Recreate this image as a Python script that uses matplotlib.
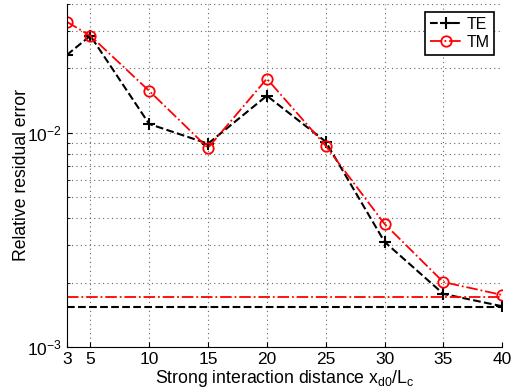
import matplotlib
matplotlib.use("Agg")
import matplotlib.pyplot as plt
from matplotlib.ticker import FixedLocator, LogLocator, NullFormatter

plt.rcParams['font.family'] = ['Liberation Sans', 'DejaVu Sans']

# data
dist = [3, 5, 10, 15, 20, 25, 30, 35, 40]
err_te = [0.0231, 0.0284, 0.0110, 0.0089, 0.0149, 0.0091, 0.0031, 0.00177, 0.00155]
err_tm = [0.0330, 0.0284, 0.0157, 0.0085, 0.0179, 0.0087, 0.00376, 0.00201, 0.00175]
ref_te = 0.00153
ref_tm = 0.00172
xticks = [3, 5, 10, 15, 20, 25, 30, 35, 40]

fig = plt.figure(figsize=(5.14, 3.91), dpi=100)
ax = fig.add_axes([0.130, 0.1125, 0.847, 0.8775])

ax.set_yscale('log')
ax.plot(dist, err_te, 'k--', marker='+', ms=8, mew=1.5, lw=1.5, label='TE')
ax.plot(dist, err_tm, color='red', ls='-.', marker='o', ms=7.5, mfc='none',
        mew=1.3, lw=1.3, label='TM')
ax.axhline(ref_te, color='k', ls='--', lw=1.5)
ax.axhline(ref_tm, color='red', ls='-.', lw=1.3)

ax.set_xlim(3, 40)
ax.set_ylim(1e-3, 4e-2)
ax.xaxis.set_major_locator(FixedLocator(xticks))
ax.set_xticklabels([str(v) for v in xticks])
ax.yaxis.set_major_locator(LogLocator(base=10))
ax.yaxis.set_minor_locator(LogLocator(base=10, subs=range(2, 10)))
ax.yaxis.set_minor_formatter(NullFormatter())

grid_kw = dict(ls=(0, (1, 3)), color='0.4', lw=0.8)
ax.grid(True, which='major', **grid_kw)
ax.grid(True, which='minor', axis='y', **grid_kw)
ax.spines['top'].set_visible(False)
ax.spines['right'].set_visible(False)
ax.tick_params(direction='in', labelsize=12.5)
ax.tick_params(which='minor', direction='in')

ax.set_xlabel('Strong interaction distance x$_{\\mathregular{d0}}$/L$_{\\mathregular{c}}$',
              fontsize=12.7, labelpad=1)
ax.set_ylabel('Relative residual error', fontsize=12.7, labelpad=-2)

leg = ax.legend(loc='upper right', fontsize=11.5, fancybox=False, framealpha=1,
                edgecolor='k', handlelength=2.0, borderpad=0.3, labelspacing=0.2,
                handletextpad=0.3, borderaxespad=0.5)
leg.get_frame().set_linewidth(1.2)

fig.savefig('out.png', dpi=100)
